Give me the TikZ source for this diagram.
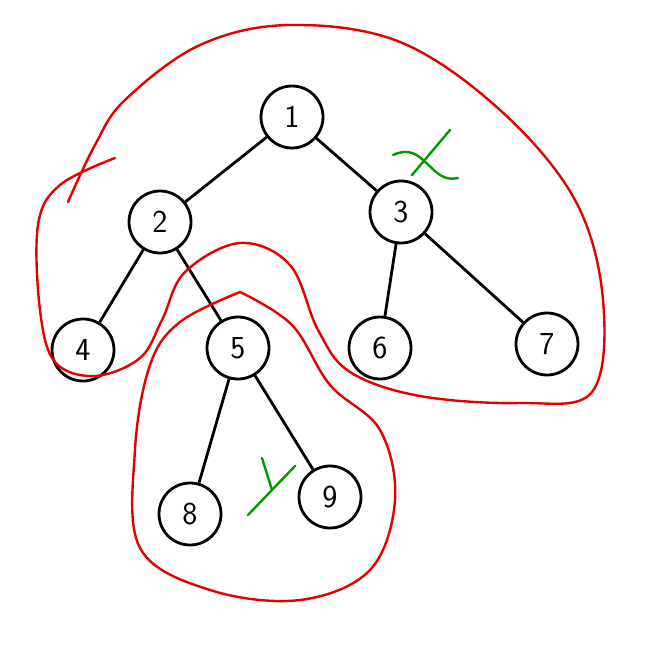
\documentclass[tikz,border=0pt]{standalone}
\begin{document}
\begin{tikzpicture}[x=1pt,y=-1pt,
  vtx/.style={circle,draw=black,line width=2.8pt,minimum size=62pt,inner sep=0pt,font=\fontsize{32}{32}\selectfont\sffamily},
  edge/.style={line width=2.8pt},
  redline/.style={draw=red!90!black,line width=2.4pt,line cap=round,line join=round},
  greenline/.style={draw=green!60!black,line width=2.4pt,line cap=round}]
\useasboundingbox (0,0) rectangle (671,648);
\node[vtx] (n1) at (292,117) {1};
\node[vtx] (n2) at (160,222) {2};
\node[vtx] (n3) at (401,212) {3};
\node[vtx] (n4) at (83,350) {4};
\node[vtx] (n5) at (238,348) {5};
\node[vtx] (n6) at (380,348) {6};
\node[vtx] (n7) at (547,344) {7};
\node[vtx] (n8) at (190,514) {8};
\node[vtx] (n9) at (330,497) {9};
\draw[edge] (n1)--(n2); \draw[edge] (n1)--(n3);
\draw[edge] (n2)--(n4); \draw[edge] (n2)--(n5);
\draw[edge] (n3)--(n6); \draw[edge] (n3)--(n7);
\draw[edge] (n5)--(n8); \draw[edge] (n5)--(n9);
% outer red curve
\draw[redline] plot[smooth,tension=0.6] coordinates{(115,158) (60,185) (38,225) (40,310) (55,362) (95,376) (140,358) (162,320) (185,272) (240,243) (290,265) (318,330) (350,372) (420,396) (520,403) (592,392) (603,300) (575,200) (500,110) (400,42) (290,25) (200,45) (125,100) (95,145) (68,202)};
% inner red curve
\draw[redline] plot[smooth,tension=0.6] coordinates{(240,292) (180,322) (150,365) (135,450) (140,548) (210,590) (300,600) (370,570) (395,500) (380,430) (330,385) (292,325) (240,292)};
% green x
\draw[greenline] (393,155) .. controls (425,140) and (430,185) .. (458,178);
\draw[greenline] (450,130) -- (412,175);
% green y
\draw[greenline] (262,458) -- (272,490);
\draw[greenline] (295,466) -- (248,515);
\end{tikzpicture}
\end{document}
